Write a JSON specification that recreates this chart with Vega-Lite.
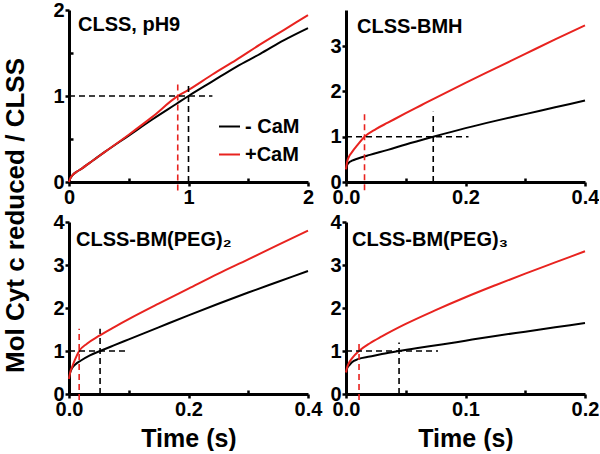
{
  "$schema": "https://vega.github.io/schema/vega-lite/v6.json",
  "background": "white",
  "padding": {"left": 2, "top": 0, "right": 0, "bottom": 0},
  "columns": 2,
  "spacing": {"row": 40, "column": 38},
  "bounds": "flush",
  "resolve": {"scale": {"color": "independent"}, "legend": {"color": "independent"}},
  "config": {
    "view": {"stroke": null},
    "font": "Liberation Sans",
    "axis": {"grid": false, "labelFlush": false, "domainColor": "black", "domainWidth": 3, "tickColor": "black", "tickWidth": 2.5, "tickSize": 4, "labelFont": "Liberation Sans", "labelFontSize": 20, "labelFontWeight": "bold", "labelColor": "black", "labelPadding": 1, "titleFont": "Liberation Sans", "titleFontSize": 25, "titleFontWeight": "bold", "titleColor": "black"},
    "title": {"anchor": "start", "frame": "group", "orient": "top", "fontSize": 20, "fontWeight": "bold", "font": "Liberation Sans", "color": "black", "baseline": "alphabetic"},
    "legend": {"orient": "none", "legendX": 149, "legendY": 105, "symbolType": "stroke", "symbolSize": 441, "symbolStrokeWidth": 2, "labelFontSize": 20, "labelFontWeight": "bold", "labelFont": "Liberation Sans", "labelColor": "black", "rowPadding": 6, "labelOffset": 4, "padding": 0}
  },
  "concat": [
    {
      "width": 239, "height": 172,
      "title": {"text": "CLSS, pH9", "dx": 9, "offset": -35},
      "layer": [
        {
          "data": {"values": [
            {"t": 0, "y": 0, "s": "- CaM"}, {"t": 0.01, "y": 0.04, "s": "- CaM"}, {"t": 0.03, "y": 0.08, "s": "- CaM"}, {"t": 0.06, "y": 0.115, "s": "- CaM"}, {"t": 0.1, "y": 0.15, "s": "- CaM"}, {"t": 0.2, "y": 0.25, "s": "- CaM"}, {"t": 0.3, "y": 0.35, "s": "- CaM"}, {"t": 0.5, "y": 0.54, "s": "- CaM"}, {"t": 0.7, "y": 0.73, "s": "- CaM"}, {"t": 0.9, "y": 0.91, "s": "- CaM"}, {"t": 1.0, "y": 1.0, "s": "- CaM"}, {"t": 1.2, "y": 1.17, "s": "- CaM"}, {"t": 1.4, "y": 1.34, "s": "- CaM"}, {"t": 1.6, "y": 1.49, "s": "- CaM"}, {"t": 1.8, "y": 1.65, "s": "- CaM"}, {"t": 2.0, "y": 1.79, "s": "- CaM"},
            {"t": 0, "y": 0, "s": "+CaM"}, {"t": 0.01, "y": 0.04, "s": "+CaM"}, {"t": 0.03, "y": 0.08, "s": "+CaM"}, {"t": 0.06, "y": 0.115, "s": "+CaM"}, {"t": 0.1, "y": 0.15, "s": "+CaM"}, {"t": 0.2, "y": 0.25, "s": "+CaM"}, {"t": 0.3, "y": 0.35, "s": "+CaM"}, {"t": 0.5, "y": 0.55, "s": "+CaM"}, {"t": 0.7, "y": 0.76, "s": "+CaM"}, {"t": 0.9, "y": 0.99, "s": "+CaM"}, {"t": 1.0, "y": 1.07, "s": "+CaM"}, {"t": 1.2, "y": 1.25, "s": "+CaM"}, {"t": 1.4, "y": 1.42, "s": "+CaM"}, {"t": 1.6, "y": 1.6, "s": "+CaM"}, {"t": 1.8, "y": 1.77, "s": "+CaM"}, {"t": 2.0, "y": 1.94, "s": "+CaM"}
          ]},
          "mark": {"type": "line", "strokeWidth": 2, "interpolate": "monotone"},
          "encoding": {
            "x": {"field": "t", "type": "quantitative", "scale": {"domain": [0, 2], "nice": false},
                  "axis": {"title": null, "format": "~g", "values": [0, 0.5, 1, 1.5, 2], "labelExpr": "indexof([0,1,2], datum.value) >= 0 ? datum.label : ''", "tickSize": {"condition": {"test": "indexof([0,1,2], datum.value) >= 0", "value": 4}, "value": -4}}},
            "y": {"field": "y", "type": "quantitative", "scale": {"domain": [0, 2], "nice": false},
                  "axis": {"title": "Mol Cyt c reduced / CLSS", "titleFontSize": 26, "titleX": -46, "titleY": 205, "titleAngle": -90, "titleAlign": "center", "titleBaseline": "alphabetic", "format": "~g", "values": [0, 0.5, 1, 1.5, 2], "labelExpr": "indexof([0,1,2], datum.value) >= 0 ? datum.label : ''", "tickSize": {"condition": {"test": "indexof([0,1,2], datum.value) >= 0", "value": 4}, "value": -4}}},
            "color": {"field": "s", "type": "nominal", "scale": {"domain": ["- CaM", "+CaM"], "range": ["#000000", "#e8231f"]}, "legend": {"title": null}}
          }
        },
        {
          "data": {"values": [
            {"x": 0, "x2": 1.2, "y": 1, "y2": 1, "s": "- CaM"},
            {"x": 1, "x2": 1, "y": 0, "y2": 1.12, "s": "- CaM"},
            {"x": 0.91, "x2": 0.91, "y": -0.1, "y2": 1.14, "s": "+CaM"}
          ]},
          "mark": {"type": "rule", "strokeDash": [6, 4], "strokeWidth": 1.6},
          "encoding": {
            "x": {"field": "x", "type": "quantitative", "scale": {"domain": [0, 2], "nice": false}},
            "x2": {"field": "x2"},
            "y": {"field": "y", "type": "quantitative", "scale": {"domain": [0, 2], "nice": false}},
            "y2": {"field": "y2"},
            "color": {"field": "s", "type": "nominal", "scale": {"domain": ["- CaM", "+CaM"], "range": ["#000000", "#e8231f"]}, "legend": {"title": null}}
          }
        }
      ]
    },
    {
      "width": 239, "height": 172,
      "title": {"text": "CLSS-BMH", "dx": 11, "offset": -27},
      "layer": [
        {
          "data": {"values": [
            {"t": 0, "y": 0.28, "s": "- CaM"}, {"t": 0.002, "y": 0.38, "s": "- CaM"}, {"t": 0.005, "y": 0.43, "s": "- CaM"}, {"t": 0.01, "y": 0.47, "s": "- CaM"}, {"t": 0.02, "y": 0.52, "s": "- CaM"}, {"t": 0.04, "y": 0.6, "s": "- CaM"}, {"t": 0.07, "y": 0.71, "s": "- CaM"}, {"t": 0.1, "y": 0.83, "s": "- CaM"}, {"t": 0.146, "y": 1.0, "s": "- CaM"}, {"t": 0.2, "y": 1.19, "s": "- CaM"}, {"t": 0.25, "y": 1.35, "s": "- CaM"}, {"t": 0.3, "y": 1.5, "s": "- CaM"}, {"t": 0.35, "y": 1.65, "s": "- CaM"}, {"t": 0.4, "y": 1.8, "s": "- CaM"},
            {"t": 0, "y": 0.28, "s": "+CaM"}, {"t": 0.002, "y": 0.45, "s": "+CaM"}, {"t": 0.005, "y": 0.56, "s": "+CaM"}, {"t": 0.01, "y": 0.66, "s": "+CaM"}, {"t": 0.02, "y": 0.83, "s": "+CaM"}, {"t": 0.031, "y": 1.0, "s": "+CaM"}, {"t": 0.05, "y": 1.17, "s": "+CaM"}, {"t": 0.07, "y": 1.31, "s": "+CaM"}, {"t": 0.1, "y": 1.52, "s": "+CaM"}, {"t": 0.125, "y": 1.69, "s": "+CaM"}, {"t": 0.15, "y": 1.86, "s": "+CaM"}, {"t": 0.2, "y": 2.19, "s": "+CaM"}, {"t": 0.25, "y": 2.51, "s": "+CaM"}, {"t": 0.3, "y": 2.83, "s": "+CaM"}, {"t": 0.35, "y": 3.15, "s": "+CaM"}, {"t": 0.4, "y": 3.46, "s": "+CaM"}
          ]},
          "mark": {"type": "line", "strokeWidth": 2, "interpolate": "monotone"},
          "encoding": {
            "x": {"field": "t", "type": "quantitative", "scale": {"domain": [0, 0.4], "nice": false},
                  "axis": {"title": null, "format": ".1f", "values": [0, 0.1, 0.2, 0.3, 0.4], "labelExpr": "indexof([0,0.2,0.4], datum.value) >= 0 ? datum.label : ''", "tickSize": {"condition": {"test": "indexof([0,0.2,0.4], datum.value) >= 0", "value": 4}, "value": -4}}},
            "y": {"field": "y", "type": "quantitative", "scale": {"domain": [0, 3.8], "nice": false},
                  "axis": {"title": null, "values": [0, 1, 2, 3]}},
            "color": {"field": "s", "type": "nominal", "scale": {"domain": ["- CaM", "+CaM"], "range": ["#000000", "#e8231f"]}, "legend": null}
          }
        },
        {
          "data": {"values": [
            {"x": 0, "x2": 0.205, "y": 1, "y2": 1, "s": "- CaM"},
            {"x": 0.146, "x2": 0.146, "y": 0, "y2": 1.55, "s": "- CaM"},
            {"x": 0.031, "x2": 0.031, "y": -0.18, "y2": 1.55, "s": "+CaM"}
          ]},
          "mark": {"type": "rule", "strokeDash": [6, 4], "strokeWidth": 1.6},
          "encoding": {
            "x": {"field": "x", "type": "quantitative", "scale": {"domain": [0, 0.4], "nice": false}},
            "x2": {"field": "x2"},
            "y": {"field": "y", "type": "quantitative", "scale": {"domain": [0, 3.8], "nice": false}},
            "y2": {"field": "y2"},
            "color": {"field": "s", "type": "nominal", "scale": {"domain": ["- CaM", "+CaM"], "range": ["#000000", "#e8231f"]}, "legend": null}
          }
        }
      ]
    },
    {
      "width": 239, "height": 172,
      "title": {"text": "CLSS-BM(PEG)₂", "dx": 7, "offset": -38},
      "layer": [
        {
          "data": {"values": [
            {"t": 0, "y": 0.38, "s": "- CaM"}, {"t": 0.002, "y": 0.5, "s": "- CaM"}, {"t": 0.005, "y": 0.6, "s": "- CaM"}, {"t": 0.01, "y": 0.68, "s": "- CaM"}, {"t": 0.02, "y": 0.78, "s": "- CaM"}, {"t": 0.035, "y": 0.9, "s": "- CaM"}, {"t": 0.052, "y": 1.0, "s": "- CaM"}, {"t": 0.075, "y": 1.13, "s": "- CaM"}, {"t": 0.1, "y": 1.27, "s": "- CaM"}, {"t": 0.15, "y": 1.55, "s": "- CaM"}, {"t": 0.2, "y": 1.83, "s": "- CaM"}, {"t": 0.25, "y": 2.1, "s": "- CaM"}, {"t": 0.3, "y": 2.36, "s": "- CaM"}, {"t": 0.35, "y": 2.61, "s": "- CaM"}, {"t": 0.4, "y": 2.86, "s": "- CaM"},
            {"t": 0, "y": 0.35, "s": "+CaM"}, {"t": 0.002, "y": 0.5, "s": "+CaM"}, {"t": 0.005, "y": 0.62, "s": "+CaM"}, {"t": 0.01, "y": 0.8, "s": "+CaM"}, {"t": 0.017, "y": 1.0, "s": "+CaM"}, {"t": 0.03, "y": 1.17, "s": "+CaM"}, {"t": 0.05, "y": 1.35, "s": "+CaM"}, {"t": 0.075, "y": 1.55, "s": "+CaM"}, {"t": 0.1, "y": 1.74, "s": "+CaM"}, {"t": 0.15, "y": 2.1, "s": "+CaM"}, {"t": 0.2, "y": 2.45, "s": "+CaM"}, {"t": 0.25, "y": 2.8, "s": "+CaM"}, {"t": 0.3, "y": 3.13, "s": "+CaM"}, {"t": 0.35, "y": 3.47, "s": "+CaM"}, {"t": 0.4, "y": 3.8, "s": "+CaM"}
          ]},
          "mark": {"type": "line", "strokeWidth": 2, "interpolate": "monotone"},
          "encoding": {
            "x": {"field": "t", "type": "quantitative", "scale": {"domain": [0, 0.4], "nice": false},
                  "axis": {"title": "Time (s)", "titlePadding": 7, "format": ".1f", "values": [0, 0.1, 0.2, 0.3, 0.4], "labelExpr": "indexof([0,0.2,0.4], datum.value) >= 0 ? datum.label : ''", "tickSize": {"condition": {"test": "indexof([0,0.2,0.4], datum.value) >= 0", "value": 4}, "value": -4}}},
            "y": {"field": "y", "type": "quantitative", "scale": {"domain": [0, 4], "nice": false},
                  "axis": {"title": null, "values": [0, 1, 2, 3, 4]}},
            "color": {"field": "s", "type": "nominal", "scale": {"domain": ["- CaM", "+CaM"], "range": ["#000000", "#e8231f"]}, "legend": null}
          }
        },
        {
          "data": {"values": [
            {"x": 0, "x2": 0.1, "y": 1, "y2": 1, "s": "- CaM"},
            {"x": 0.052, "x2": 0.052, "y": 0, "y2": 1.52, "s": "- CaM"},
            {"x": 0.017, "x2": 0.017, "y": -0.14, "y2": 1.52, "s": "+CaM"}
          ]},
          "mark": {"type": "rule", "strokeDash": [6, 4], "strokeWidth": 1.6},
          "encoding": {
            "x": {"field": "x", "type": "quantitative", "scale": {"domain": [0, 0.4], "nice": false}},
            "x2": {"field": "x2"},
            "y": {"field": "y", "type": "quantitative", "scale": {"domain": [0, 4], "nice": false}},
            "y2": {"field": "y2"},
            "color": {"field": "s", "type": "nominal", "scale": {"domain": ["- CaM", "+CaM"], "range": ["#000000", "#e8231f"]}, "legend": null}
          }
        }
      ]
    },
    {
      "width": 239, "height": 172,
      "title": {"text": "CLSS-BM(PEG)₃", "dx": 6, "offset": -38},
      "layer": [
        {
          "data": {"values": [
            {"t": 0, "y": 0.5, "s": "- CaM"}, {"t": 0.001, "y": 0.6, "s": "- CaM"}, {"t": 0.003, "y": 0.68, "s": "- CaM"}, {"t": 0.005, "y": 0.74, "s": "- CaM"}, {"t": 0.01, "y": 0.81, "s": "- CaM"}, {"t": 0.02, "y": 0.87, "s": "- CaM"}, {"t": 0.03, "y": 0.93, "s": "- CaM"}, {"t": 0.044, "y": 1.0, "s": "- CaM"}, {"t": 0.06, "y": 1.07, "s": "- CaM"}, {"t": 0.08, "y": 1.15, "s": "- CaM"}, {"t": 0.1, "y": 1.24, "s": "- CaM"}, {"t": 0.125, "y": 1.35, "s": "- CaM"}, {"t": 0.15, "y": 1.45, "s": "- CaM"}, {"t": 0.175, "y": 1.55, "s": "- CaM"}, {"t": 0.2, "y": 1.65, "s": "- CaM"},
            {"t": 0, "y": 0.5, "s": "+CaM"}, {"t": 0.001, "y": 0.62, "s": "+CaM"}, {"t": 0.003, "y": 0.75, "s": "+CaM"}, {"t": 0.005, "y": 0.83, "s": "+CaM"}, {"t": 0.0109, "y": 1.0, "s": "+CaM"}, {"t": 0.02, "y": 1.18, "s": "+CaM"}, {"t": 0.03, "y": 1.34, "s": "+CaM"}, {"t": 0.05, "y": 1.63, "s": "+CaM"}, {"t": 0.075, "y": 1.95, "s": "+CaM"}, {"t": 0.1, "y": 2.25, "s": "+CaM"}, {"t": 0.125, "y": 2.53, "s": "+CaM"}, {"t": 0.15, "y": 2.8, "s": "+CaM"}, {"t": 0.175, "y": 3.06, "s": "+CaM"}, {"t": 0.2, "y": 3.32, "s": "+CaM"}
          ]},
          "mark": {"type": "line", "strokeWidth": 2, "interpolate": "monotone"},
          "encoding": {
            "x": {"field": "t", "type": "quantitative", "scale": {"domain": [0, 0.2], "nice": false},
                  "axis": {"title": "Time (s)", "titlePadding": 7, "format": ".1f", "values": [0, 0.05, 0.1, 0.15, 0.2], "labelExpr": "indexof([0,0.1,0.2], datum.value) >= 0 ? datum.label : ''", "tickSize": {"condition": {"test": "indexof([0,0.1,0.2], datum.value) >= 0", "value": 4}, "value": -4}}},
            "y": {"field": "y", "type": "quantitative", "scale": {"domain": [0, 4], "nice": false},
                  "axis": {"title": null, "values": [0, 1, 2, 3, 4]}},
            "color": {"field": "s", "type": "nominal", "scale": {"domain": ["- CaM", "+CaM"], "range": ["#000000", "#e8231f"]}, "legend": null}
          }
        },
        {
          "data": {"values": [
            {"x": 0, "x2": 0.077, "y": 1, "y2": 1, "s": "- CaM"},
            {"x": 0.0444, "x2": 0.0444, "y": 0, "y2": 1.2, "s": "- CaM"},
            {"x": 0.0109, "x2": 0.0109, "y": -0.14, "y2": 1.2, "s": "+CaM"}
          ]},
          "mark": {"type": "rule", "strokeDash": [6, 4], "strokeWidth": 1.6},
          "encoding": {
            "x": {"field": "x", "type": "quantitative", "scale": {"domain": [0, 0.2], "nice": false}},
            "x2": {"field": "x2"},
            "y": {"field": "y", "type": "quantitative", "scale": {"domain": [0, 4], "nice": false}},
            "y2": {"field": "y2"},
            "color": {"field": "s", "type": "nominal", "scale": {"domain": ["- CaM", "+CaM"], "range": ["#000000", "#e8231f"]}, "legend": null}
          }
        }
      ]
    }
  ]
}
